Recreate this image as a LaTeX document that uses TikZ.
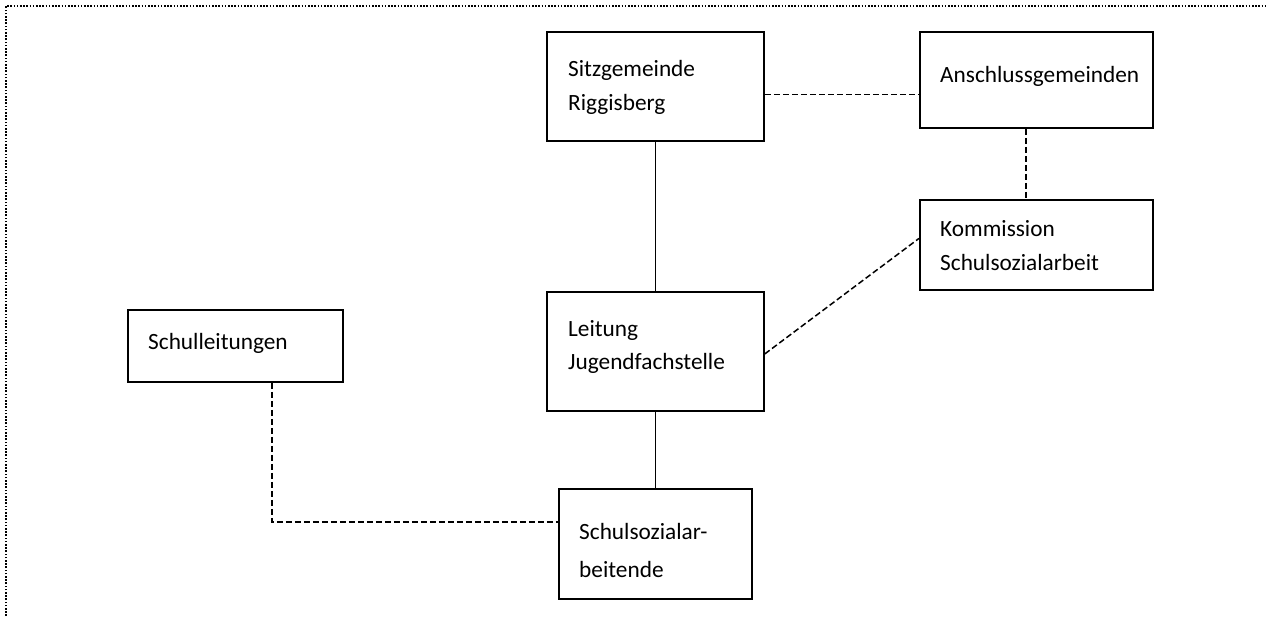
\documentclass[tikz,border=0pt]{standalone}
\usepackage{fontspec}
\setmainfont{Carlito}
\tikzset{
  box/.style={draw, line width=1.8pt, inner sep=0pt, anchor=north west},
  lbl/.style={anchor=base west, inner sep=0pt, font=\fontsize{23.3}{28}\selectfont},
  dsh/.style={line width=1.5pt, dash pattern=on 6pt off 3pt},
  sld/.style={line width=1.8pt},
  frame/.style={line width=1.6pt, dash pattern=on 1.6pt off 1.6pt}
}
\begin{document}
\begin{tikzpicture}[x=1pt,y=-1pt]
\useasboundingbox (0,0) rectangle (1268,616);
\draw[frame] (6,616) -- (6,6) -- (1268,6);

\node[box, minimum width=217pt, minimum height=109pt] (sitz) at (546,31) {};
\node[box, minimum width=233pt, minimum height=96pt] (ansch) at (919,31) {};
\node[box, minimum width=233pt, minimum height=90pt] (komm) at (919,199) {};
\node[box, minimum width=217pt, minimum height=119pt] (leit) at (546,291) {};
\node[box, minimum width=215pt, minimum height=72pt] (sl) at (127,309) {};
\node[box, minimum width=193pt, minimum height=110pt] (ss) at (558,488) {};

\node[lbl] (sitzA) at (568,76) {Sitzgemeinde};
\node[lbl] (sitzB) at (568,110) {Riggisberg};
\node[lbl] (anschA) at (940,82) {Anschlussgemeinden};
\node[lbl] (kommA) at (940,236) {Kommission};
\node[lbl] (kommB) at (940,270) {Schulsozialarbeit};
\node[lbl] (leitA) at (568,336) {Leitung};
\node[lbl] (leitB) at (568,369) {Jugendfachstelle};
\node[lbl] (slA) at (148,349) {Schulleitungen};
\node[lbl] (ssA) at (579,539) {Schulsozialar-};
\node[lbl] (ssB) at (579,577) {beitende};

\draw[dsh] ([yshift=-8pt]sitz.east) -- ([yshift=-8pt]sitz.east -| ansch.west);
\draw[dsh] ([xshift=-10.5pt]ansch.south) -- ([xshift=-10.5pt]ansch.south |- komm.north);
\draw[sld] (sitz.south) -- (leit.north);
\draw[sld] (leit.south) -- (ss.north);
\draw[dsh] ([yshift=-2.5pt]leit.east) -- ([yshift=6.5pt]komm.west);
\draw[dsh] ([xshift=36.5pt]sl.south) |- ([yshift=22pt]ss.west);
\end{tikzpicture}
\end{document}
